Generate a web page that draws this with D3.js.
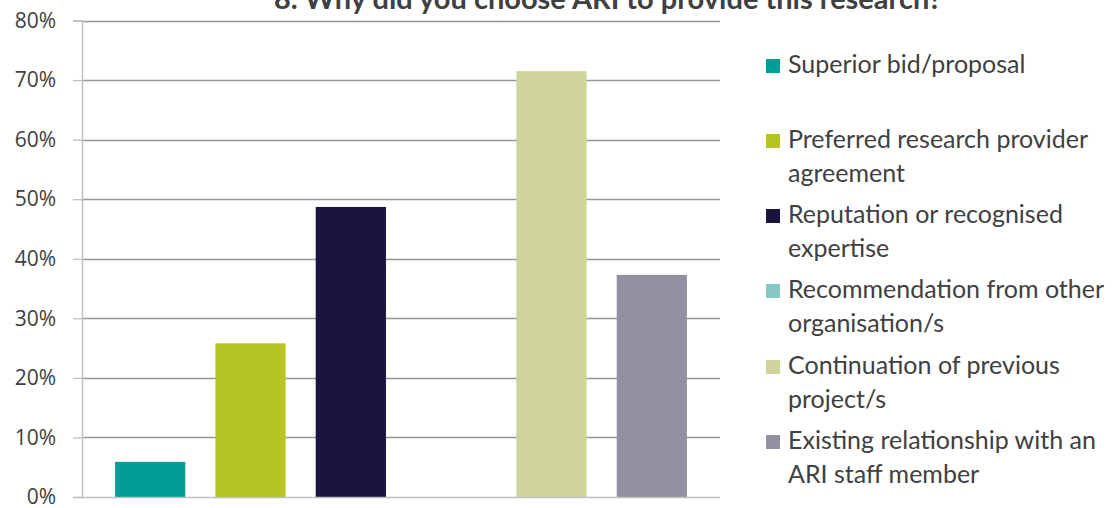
<!DOCTYPE html>
<html>
<head>
<meta charset="utf-8">
<script src="https://cdn.jsdelivr.net/npm/d3@7"></script>
<style>
  html, body { margin: 0; padding: 0; background: #fff; }
  svg { display: block; font-family: Lato, "Open Sans", sans-serif; }
</style>
</head>
<body>
<svg id="chart" width="1118" height="508"></svg>
<script>
const title = "8. Why did you choose ARI to provide this research?";
const series = [
  "Superior bid/proposal",
  "Preferred research provider agreement",
  "Reputation or recognised expertise",
  "Recommendation from other organisation/s",
  "Continuation of previous project/s",
  "Existing relationship with an ARI staff member"
];
const legendLines = [
  ["Superior bid/proposal"],
  ["Preferred research provider", "agreement"],
  ["Reputation or recognised", "expertise"],
  ["Recommendation from other", "organisation/s"],
  ["Continuation of previous", "project/s"],
  ["Existing relationship with an", "ARI staff member"]
];
const values = [0.059, 0.258, 0.487, 0, 0.715, 0.373];
const colors = ["#009e96", "#b6c424", "#1b1340", "#85c7c3", "#cfd49a", "#948fa0"];
const yTicks = [0, 0.1, 0.2, 0.3, 0.4, 0.5, 0.6, 0.7, 0.8];

const svg = d3.select("#chart");
const plot = { left: 82, right: 720, top: 20.5, bottom: 497 };

const x = d3.scaleBand().domain(series).range([100, 702]).paddingInner(0.3).paddingOuter(0.15);
const y = d3.scaleLinear().domain([0, 0.8]).range([plot.bottom, plot.top]);

// title (clipped at top as in reference)
svg.append("text")
  .attr("x", 608).attr("y", 9)
  .attr("text-anchor", "middle")
  .attr("font-weight", "bold")
  .attr("font-size", 29)
  .attr("fill", "#404040")
  .text(title);

// gridlines
svg.append("g")
  .selectAll("line")
  .data(yTicks.filter(d => d > 0))
  .join("line")
  .attr("x1", plot.left).attr("x2", plot.right)
  .attr("y1", d => Math.round(y(d)) + 0.5).attr("y2", d => Math.round(y(d)) + 0.5)
  .attr("stroke", "#969696").attr("stroke-width", 1.3);

// y axis
const yAxis = d3.axisLeft(y).tickValues(yTicks).tickFormat(d3.format(".0%")).tickSize(9).tickPadding(17);
const ga = svg.append("g").attr("transform", `translate(${plot.left},0)`).call(yAxis);
ga.select(".domain").attr("stroke", "#bfbfbf").attr("stroke-width", 1.5);
ga.selectAll(".tick line").attr("stroke", "#bfbfbf").attr("stroke-width", 1.3);
ga.selectAll(".tick text").attr("font-size", 21).attr("fill", "#404040").attr("font-family", "'Open Sans', sans-serif");

// bars
svg.append("g")
  .selectAll("rect")
  .data(series)
  .join("rect")
  .attr("x", d => x(d))
  .attr("width", x.bandwidth())
  .attr("y", (d, i) => y(values[i]))
  .attr("height", (d, i) => y(0) - y(values[i]))
  .attr("fill", (d, i) => colors[i]);

// baseline
svg.append("line")
  .attr("x1", plot.left).attr("x2", plot.right)
  .attr("y1", y(0) + 0.5).attr("y2", y(0) + 0.5)
  .attr("stroke", "#bfbfbf").attr("stroke-width", 1.5);

// legend
const lg = svg.append("g");
const itemTops = [59, 134, 209, 284, 360, 435];
series.forEach((s, i) => {
  const g = lg.append("g").attr("transform", `translate(766,${itemTops[i]})`);
  g.append("rect").attr("width", 14).attr("height", 14).attr("fill", colors[i]);
  legendLines[i].forEach((ln, j) => {
    g.append("text")
      .attr("x", 22).attr("y", 14 + j * 34)
      .attr("font-size", 25)
      .attr("fill", "#404040")
      .text(ln);
  });
});
</script>
</body>
</html>
